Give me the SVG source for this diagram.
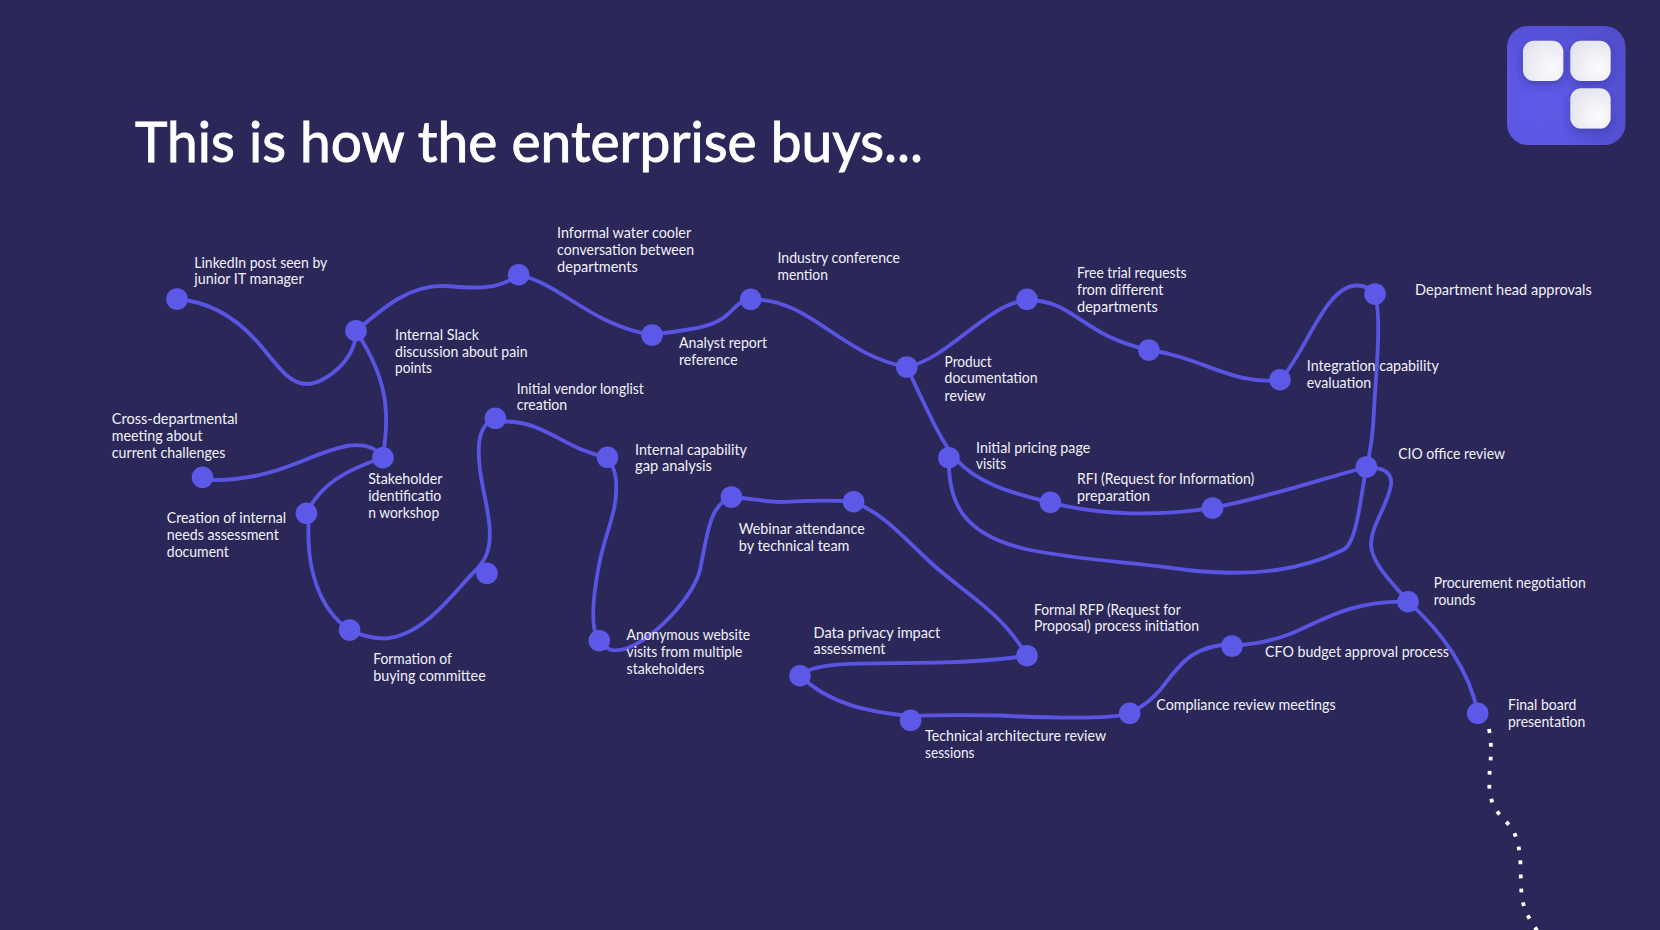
<svg xmlns="http://www.w3.org/2000/svg" width="1660" height="930" viewBox="0 0 1660 930">
<style>
.bg{fill:#2b2859}
.c{fill:none;stroke:#5955e2;stroke-width:3.8;stroke-linecap:round}
.d{fill:none;stroke:#fff;stroke-width:3.8;stroke-dasharray:3.8 10.2}
.n{fill:#5d59e8}
text{font-family:"Lato","Noto Sans",sans-serif;fill:#f1f0f8}
.l{font-size:15px}
.t{font-size:57px;fill:#fff;stroke:#fff;stroke-width:0.9}
.sq{fill:url(#sq);filter:url(#sh)}
</style>
<defs>
<radialGradient id="lg" cx="0.3" cy="0.62" r="0.9"><stop offset="0" stop-color="#5f5be8"/><stop offset="0.5" stop-color="#5a56e0"/><stop offset="1" stop-color="#4f4bc6"/></radialGradient>
<radialGradient id="sq" cx="0.7" cy="0.7" r="0.8"><stop offset="0" stop-color="#fbfbfd"/><stop offset="1" stop-color="#e4e4ee"/></radialGradient>
<filter id="sh" x="-30%" y="-30%" width="170%" height="170%"><feDropShadow dx="0" dy="4" stdDeviation="5" flood-color="#2b2870" flood-opacity="0.4"/></filter>
</defs>
<rect class="bg" width="1660" height="930"/>
<text id="title" class="t" x="135" y="161.5" textLength="788" lengthAdjust="spacingAndGlyphs">This is how the enterprise buys...</text>
<g id="logo">
<rect x="1507" y="26" width="118.5" height="119" rx="21" fill="url(#lg)"/>
<rect class="sq" x="1523" y="40.7" width="40.3" height="40.3" rx="11"/>
<rect class="sq" x="1570.3" y="40.7" width="40.3" height="40.3" rx="11"/>
<rect class="sq" x="1570.3" y="88.3" width="40.3" height="40.3" rx="11"/>
</g>
<g id="connectors">
<path class="c" d="M177 299C214 302 240 321 261 346C279 368 290 384 307 384C325 384 356 360 356 331"/>
<path class="c" d="M356 331C385 306 410 285 445 286C475 288 495 291 518.6 275"/>
<path class="c" d="M518.6 275C560 283 590 325 652 335"/>
<path class="c" d="M652 335C680 330 710 330 727 315C735 308 740 300 750.7 299.3"/>
<path class="c" d="M750.7 299.3C810 298 840 355 906.8 367"/>
<path class="c" d="M906.8 367C950 358 985 305 1027 300"/>
<path class="c" d="M1027 300C1075 300 1080 335 1149 350"/>
<path class="c" d="M1149 350C1205 358 1230 385 1280 380"/>
<path class="c" d="M1280 380C1305 355 1325 285 1357 285.5C1365 285.5 1370 288 1375 294"/>
<path class="c" d="M1375 294C1382 320 1376 370 1374 410C1373 435 1371 450 1366.4 467"/>
<path class="c" d="M948.9 457.7C948 500 960 535 1030 550C1080 560 1130 562 1187 570C1260 578 1305 568 1343 550C1357 543 1360 500 1366.4 467"/>
<path class="c" d="M906.8 367C925 405 940 440 955 458C975 482 1010 493 1050.4 502.3"/>
<path class="c" d="M1050.4 502.3C1100 516 1160 516 1212.5 508"/>
<path class="c" d="M1212.5 508C1265 498 1315 481 1366.4 467"/>
<path class="c" d="M1366.4 467C1380 468 1393 470 1391 485C1388 505 1371 525 1371 545C1372 565 1395 585 1408 601.7"/>
<path class="c" d="M1408 601.7C1440 630 1470 670 1477.7 713.3"/>
<path class="c" d="M1408 601.7C1350 600 1320 622 1290 634C1270 642 1250 644 1232 646"/>
<path class="c" d="M1232 644C1190 646 1180 665 1160 690C1150 702 1140 708 1129.7 713.3"/>
<path class="c" d="M1129.7 713.3C1110 720 1050 718 1000 715.5C965 715 935 715 910.6 716"/>
<path class="c" d="M910.6 716C870 712 830 705 800 675.7"/>
<path class="c" d="M800 675.7C815 660 870 664 935 662.7C975 662 1000 660 1027 655.7"/>
<path class="c" d="M1027 655.7C1000 610 960 590 930 562C900 534 885 515 853.6 501.7"/>
<path class="c" d="M853.6 501.7C820 499 795 502 780 502C765 502 750 498 731.4 497"/>
<path class="c" d="M731.4 497C710 505 708 530 700 570C693 600 640 655 612 650C607 649 603 646 599.3 640.7"/>
<path class="c" d="M599.3 640.7C590 630 592 600 600 560C608 525 618 510 616 480C615 470 612 465 607.5 457.3"/>
<path class="c" d="M607.5 457.3C565 450 545 421 505 421.5C500 421 498 420 495.4 418.3"/>
<path class="c" d="M495.4 418.3C478 425 477 445 480 470C484 500 495 530 487 553C485 560 480 565 476 570C455 590 425 636 385 638.5C373 638.5 360 635 349.6 630"/>
<path class="c" d="M349.6 630C320 610 305 570 309 515"/>
<path class="c" d="M306.4 513.3C320 485 345 470 382.9 457.7"/>
<path class="c" d="M382.9 457.7C375 447 365 444 350 445.5C315 450 280 480 215 480C210 480 205 479 202.5 477.3"/>
<path class="c" d="M382.9 457.7C388 420 392 385 356 331"/>
<path class="d" d="M1489 729C1492 745 1491 756 1489.7 770C1489 784 1488 798 1496.7 810.7C1503 820 1510 824 1514 832.3C1520 845 1520.5 860 1520.7 873C1521 888 1521 902 1527 914C1530 920 1534 926 1538 932"/>
</g>
<g id="n01"><circle class="n" cx="177" cy="299" r="10.8"/><text class="l"><tspan x="194.3" y="267.7" textLength="133" lengthAdjust="spacingAndGlyphs">LinkedIn post seen by</tspan><tspan x="194.3" y="284.3" textLength="109.3" lengthAdjust="spacingAndGlyphs">junior IT manager</tspan></text></g>
<g id="n02"><circle class="n" cx="356" cy="330.7" r="10.8"/><text class="l"><tspan x="395" y="340" textLength="84" lengthAdjust="spacingAndGlyphs">Internal Slack</tspan><tspan x="395" y="356.7" textLength="132.5" lengthAdjust="spacingAndGlyphs">discussion about pain</tspan><tspan x="395" y="373.4" textLength="37" lengthAdjust="spacingAndGlyphs">points</tspan></text></g>
<g id="n03"><circle class="n" cx="518.6" cy="274.7" r="10.8"/><text class="l"><tspan x="557.1" y="238.3" textLength="134" lengthAdjust="spacingAndGlyphs">Informal water cooler</tspan><tspan x="557.1" y="255.2" textLength="137" lengthAdjust="spacingAndGlyphs">conversation between</tspan><tspan x="557.1" y="272" textLength="80.7" lengthAdjust="spacingAndGlyphs">departments</tspan></text></g>
<g id="n04"><circle class="n" cx="652.1" cy="335" r="10.8"/><text class="l"><tspan x="679" y="348.3" textLength="88" lengthAdjust="spacingAndGlyphs">Analyst report</tspan><tspan x="679" y="365" textLength="58.6" lengthAdjust="spacingAndGlyphs">reference</tspan></text></g>
<g id="n05"><circle class="n" cx="750.7" cy="299.3" r="10.8"/><text class="l"><tspan x="777.5" y="263.3" textLength="122.5" lengthAdjust="spacingAndGlyphs">Industry conference</tspan><tspan x="777.5" y="279.5" textLength="50.4" lengthAdjust="spacingAndGlyphs">mention</tspan></text></g>
<g id="n06"><circle class="n" cx="906.8" cy="367" r="10.8"/><text class="l"><tspan x="944.6" y="366.7" textLength="47" lengthAdjust="spacingAndGlyphs">Product</tspan><tspan x="944.6" y="383.3" textLength="93" lengthAdjust="spacingAndGlyphs">documentation</tspan><tspan x="944.6" y="400.6" textLength="41" lengthAdjust="spacingAndGlyphs">review</tspan></text></g>
<g id="n07"><circle class="n" cx="1027" cy="299.3" r="10.8"/><text class="l"><tspan x="1077" y="277.7" textLength="109.6" lengthAdjust="spacingAndGlyphs">Free trial requests</tspan><tspan x="1077" y="294.5" textLength="86.4" lengthAdjust="spacingAndGlyphs">from different</tspan><tspan x="1077" y="311.8" textLength="80.7" lengthAdjust="spacingAndGlyphs">departments</tspan></text></g>
<g id="n08"><circle class="n" cx="1148.9" cy="350" r="10.8"/></g>
<g id="n09"><circle class="n" cx="1280" cy="379.7" r="10.8"/><text class="l"><tspan x="1306.8" y="371" textLength="132" lengthAdjust="spacingAndGlyphs">Integration capability</tspan><tspan x="1306.8" y="387.7" textLength="64.3" lengthAdjust="spacingAndGlyphs">evaluation</tspan></text></g>
<g id="n10"><circle class="n" cx="1375" cy="294" r="10.8"/><text class="l"><tspan x="1415" y="295.3" textLength="176.8" lengthAdjust="spacingAndGlyphs">Department head approvals</tspan></text></g>
<g id="n11"><circle class="n" cx="1366.4" cy="467" r="10.8"/><text class="l"><tspan x="1398.2" y="459" textLength="106.8" lengthAdjust="spacingAndGlyphs">CIO office review</tspan></text></g>
<g id="n12"><circle class="n" cx="948.9" cy="457.7" r="10.8"/><text class="l"><tspan x="976" y="453.3" textLength="114.3" lengthAdjust="spacingAndGlyphs">Initial pricing page</tspan><tspan x="976" y="469.2" textLength="30" lengthAdjust="spacingAndGlyphs">visits</tspan></text></g>
<g id="n13"><circle class="n" cx="1050.4" cy="502.3" r="10.8"/><text class="l"><tspan x="1077" y="484" textLength="177.3" lengthAdjust="spacingAndGlyphs">RFI (Request for Information)</tspan><tspan x="1077" y="500.7" textLength="73" lengthAdjust="spacingAndGlyphs">preparation</tspan></text></g>
<g id="n14"><circle class="n" cx="1212.5" cy="508" r="10.8"/></g>
<g id="n15"><circle class="n" cx="1408" cy="601.7" r="10.8"/><text class="l"><tspan x="1433.7" y="588" textLength="152" lengthAdjust="spacingAndGlyphs">Procurement negotiation</tspan><tspan x="1433.7" y="604.7" textLength="41.7" lengthAdjust="spacingAndGlyphs">rounds</tspan></text></g>
<g id="n16"><circle class="n" cx="1477.7" cy="713.3" r="10.8"/><text class="l"><tspan x="1508" y="710" textLength="68.3" lengthAdjust="spacingAndGlyphs">Final board</tspan><tspan x="1508" y="726.7" textLength="77.3" lengthAdjust="spacingAndGlyphs">presentation</tspan></text></g>
<g id="n17"><circle class="n" cx="1232" cy="646" r="10.8"/><text class="l"><tspan x="1265" y="656.6" textLength="184" lengthAdjust="spacingAndGlyphs">CFO budget approval process</tspan></text></g>
<g id="n18"><circle class="n" cx="1129.7" cy="713.3" r="10.8"/><text class="l"><tspan x="1156.3" y="710" textLength="179.3" lengthAdjust="spacingAndGlyphs">Compliance review meetings</tspan></text></g>
<g id="n19"><circle class="n" cx="910.6" cy="720.3" r="10.8"/><text class="l"><tspan x="925.1" y="740.7" textLength="181" lengthAdjust="spacingAndGlyphs">Technical architecture review</tspan><tspan x="925.1" y="757.5" textLength="49.4" lengthAdjust="spacingAndGlyphs">sessions</tspan></text></g>
<g id="n20"><circle class="n" cx="800" cy="675.7" r="10.8"/><text class="l"><tspan x="813.5" y="638.3" textLength="126.7" lengthAdjust="spacingAndGlyphs">Data privacy impact</tspan><tspan x="813.5" y="654.3" textLength="72" lengthAdjust="spacingAndGlyphs">assessment</tspan></text></g>
<g id="n21"><circle class="n" cx="1027" cy="655.7" r="10.8"/><text class="l"><tspan x="1034" y="614.6" textLength="146.7" lengthAdjust="spacingAndGlyphs">Formal RFP (Request for</tspan><tspan x="1034" y="630.7" textLength="165" lengthAdjust="spacingAndGlyphs">Proposal) process initiation</tspan></text></g>
<g id="n22"><circle class="n" cx="853.6" cy="501.7" r="10.8"/></g>
<g id="n23"><circle class="n" cx="731.4" cy="497" r="10.8"/><text class="l"><tspan x="738.8" y="534" textLength="125.9" lengthAdjust="spacingAndGlyphs">Webinar attendance</tspan><tspan x="738.8" y="551" textLength="110.6" lengthAdjust="spacingAndGlyphs">by technical team</tspan></text></g>
<g id="n24"><circle class="n" cx="599.3" cy="640.7" r="10.8"/><text class="l"><tspan x="626.6" y="640" textLength="123.6" lengthAdjust="spacingAndGlyphs">Anonymous website</tspan><tspan x="626.6" y="656.5" textLength="115.6" lengthAdjust="spacingAndGlyphs">visits from multiple</tspan><tspan x="626.6" y="673.7" textLength="77.7" lengthAdjust="spacingAndGlyphs">stakeholders</tspan></text></g>
<g id="n25"><circle class="n" cx="607.5" cy="457.3" r="10.8"/><text class="l"><tspan x="635" y="454.7" textLength="112" lengthAdjust="spacingAndGlyphs">Internal capability</tspan><tspan x="635" y="471" textLength="77" lengthAdjust="spacingAndGlyphs">gap analysis</tspan></text></g>
<g id="n26"><circle class="n" cx="495.4" cy="418.3" r="10.8"/><text class="l"><tspan x="516.8" y="393.6" textLength="127" lengthAdjust="spacingAndGlyphs">Initial vendor longlist</tspan><tspan x="516.8" y="410.3" textLength="50.4" lengthAdjust="spacingAndGlyphs">creation</tspan></text></g>
<g id="n27"><circle class="n" cx="487" cy="573.3" r="10.8"/></g>
<g id="n28"><circle class="n" cx="349.6" cy="630" r="10.8"/><text class="l"><tspan x="373.2" y="664" textLength="78.6" lengthAdjust="spacingAndGlyphs">Formation of</tspan><tspan x="373.2" y="681" textLength="112.5" lengthAdjust="spacingAndGlyphs">buying committee</tspan></text></g>
<g id="n29"><circle class="n" cx="306.4" cy="513.3" r="10.8"/><text class="l"><tspan x="166.8" y="523" textLength="119.3" lengthAdjust="spacingAndGlyphs">Creation of internal</tspan><tspan x="166.8" y="540" textLength="112" lengthAdjust="spacingAndGlyphs">needs assessment</tspan><tspan x="166.8" y="556.7" textLength="62" lengthAdjust="spacingAndGlyphs">document</tspan></text></g>
<g id="n30"><circle class="n" cx="382.9" cy="457.7" r="10.8"/><text class="l"><tspan x="368.2" y="484" textLength="74.3" lengthAdjust="spacingAndGlyphs">Stakeholder</tspan><tspan x="368.2" y="501" textLength="73" lengthAdjust="spacingAndGlyphs">identificatio</tspan><tspan x="368.2" y="517.7" textLength="71" lengthAdjust="spacingAndGlyphs">n workshop</tspan></text></g>
<g id="n31"><circle class="n" cx="202.5" cy="477.3" r="10.8"/><text class="l"><tspan x="111.8" y="424.3" textLength="126" lengthAdjust="spacingAndGlyphs">Cross-departmental</tspan><tspan x="111.8" y="441.3" textLength="90.7" lengthAdjust="spacingAndGlyphs">meeting about</tspan><tspan x="111.8" y="458" textLength="113.6" lengthAdjust="spacingAndGlyphs">current challenges</tspan></text></g>
</svg>
